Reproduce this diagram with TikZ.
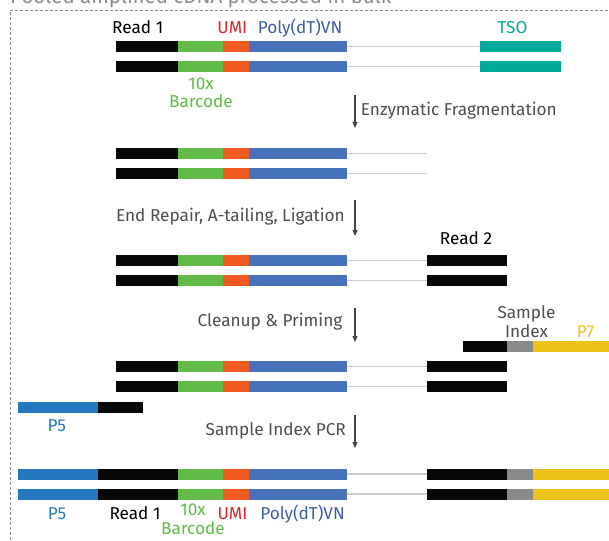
\documentclass[tikz,border=0pt]{standalone}
\usepackage{fontspec}
\setmainfont{Fira Sans}
\usepackage{tikz}
\usetikzlibrary{arrows.meta, positioning}
\usepackage{xcolor}

\definecolor{rdblack}{HTML}{080808}
\definecolor{bcgreen}{HTML}{62BB46}
\definecolor{umiorange}{HTML}{F15B22}
\definecolor{polyblue}{HTML}{4672BA}
\definecolor{tsoteal}{HTML}{00AA9B}
\definecolor{idxgray}{HTML}{8A8A8C}
\definecolor{pyellow}{HTML}{EDC21A}
\definecolor{pblue}{HTML}{2478BF}
\definecolor{linkgray}{HTML}{CDCDCD}
\definecolor{arrowgray}{HTML}{444444}
\definecolor{umired}{HTML}{DE2429}
\definecolor{polytext}{HTML}{3D5DA7}
\definecolor{steptext}{HTML}{4D4D4D}
\definecolor{framegray}{HTML}{8C8C8C}

\begin{document}
\begin{tikzpicture}[x=1pt, y=-1pt]

% Define block styles
\tikzstyle{bar} = [rectangle, inner sep=0pt, outer sep=0pt, minimum height=11pt, anchor=west]
\tikzstyle{readone} = [bar, fill=rdblack, minimum width=62.5pt]
\tikzstyle{barcode} = [bar, fill=bcgreen, minimum width=44.4pt]
\tikzstyle{umi} = [bar, fill=umiorange, minimum width=26.6pt]
\tikzstyle{polyt} = [bar, fill=polyblue, minimum width=97.4pt]
\tikzstyle{tso} = [bar, fill=tsoteal, minimum width=80.4pt]
\tikzstyle{readtwo} = [bar, fill=rdblack, minimum width=80pt]
\tikzstyle{index} = [bar, fill=idxgray, minimum width=26pt]
\tikzstyle{pseven} = [bar, fill=pyellow, minimum width=76pt]
\tikzstyle{pfive} = [bar, fill=pblue, minimum width=80pt]
\tikzstyle{link} = [draw=linkgray, line width=1.5pt]
\tikzstyle{arrow} = [draw=arrowgray, line width=1.1pt, -{Triangle[length=6pt, width=5pt]}]
\tikzstyle{tag} = [inner sep=0pt, anchor=base, align=center, font=\fontsize{17.2}{18.6}\selectfont]
\tikzstyle{stage} = [tag, text=steptext]

\path [use as bounding box, clip] (0,0) rectangle (609,540);

% Frame and cut title
\node (title) [tag, anchor=base west, text=framegray, font=\fontsize{20.5}{22}\selectfont] at (10,4) {Pooled amplified cDNA processed in bulk};
\draw [framegray, line width=0.9pt, dash pattern=on 3pt off 2pt] (10,545) -- (10,10) -- (615,10);

% Full length cDNA
\node (a1r) [readone] at (115.7,46.7) {}; \node (a1b) [barcode, right=0pt of a1r] {}; \node (a1u) [umi, right=0pt of a1b] {}; \node (a1p) [polyt, right=0pt of a1u] {};
\node (a2r) [readone] at (115.7,66.7) {}; \node (a2b) [barcode, right=0pt of a2r] {}; \node (a2u) [umi, right=0pt of a2b] {}; \node (a2p) [polyt, right=0pt of a2u] {};
\node (a1t) [tso] at (480.3,46.7) {};
\node (a2t) [tso] at (480.3,66.7) {};

% Fragmented
\node (b1r) [readone] at (115.7,153.5) {}; \node (b1b) [barcode, right=0pt of b1r] {}; \node (b1u) [umi, right=0pt of b1b] {}; \node (b1p) [polyt, right=0pt of b1u] {};
\node (b2r) [readone] at (115.7,173.5) {}; \node (b2b) [barcode, right=0pt of b2r] {}; \node (b2u) [umi, right=0pt of b2b] {}; \node (b2p) [polyt, right=0pt of b2u] {};
\coordinate (b1end) at (427,153.5);
\coordinate (b2end) at (427,173.5);

% Ligated
\node (c1r) [readone] at (115.7,260.5) {}; \node (c1b) [barcode, right=0pt of c1r] {}; \node (c1u) [umi, right=0pt of c1b] {}; \node (c1p) [polyt, right=0pt of c1u] {};
\node (c2r) [readone] at (115.7,280.5) {}; \node (c2b) [barcode, right=0pt of c2r] {}; \node (c2u) [umi, right=0pt of c2b] {}; \node (c2p) [polyt, right=0pt of c2u] {};
\node (c1x) [readtwo] at (427.3,260.5) {};
\node (c2x) [readtwo] at (427.3,280.5) {};

% Primed
\node (p7r) [readtwo, minimum width=44.6pt] at (462.7,346.7) {}; \node (p7i) [index, right=0pt of p7r] {}; \node (p7y) [pseven, right=0pt of p7i] {};
\node (d1r) [readone] at (115.7,366.7) {}; \node (d1b) [barcode, right=0pt of d1r] {}; \node (d1u) [umi, right=0pt of d1b] {}; \node (d1p) [polyt, right=0pt of d1u] {};
\node (d2r) [readone] at (115.7,386.7) {}; \node (d2b) [barcode, right=0pt of d2r] {}; \node (d2u) [umi, right=0pt of d2b] {}; \node (d2p) [polyt, right=0pt of d2u] {};
\node (d1x) [readtwo] at (427.3,366.7) {};
\node (d2x) [readtwo] at (427.3,386.7) {};
\node (p5b) [pfive] at (18.3,407) {}; \node (p5r) [readone, minimum width=44.4pt, right=0pt of p5b] {};

% Final library
\node (e1f) [pfive] at (18.3,474) {}; \node (e1r) [readone, minimum width=80pt, right=0pt of e1f] {}; \node (e1b) [barcode, right=0pt of e1r] {}; \node (e1u) [umi, right=0pt of e1b] {}; \node (e1p) [polyt, right=0pt of e1u] {};
\node (e2f) [pfive] at (18.3,494) {}; \node (e2r) [readone, minimum width=80pt, right=0pt of e2f] {}; \node (e2b) [barcode, right=0pt of e2r] {}; \node (e2u) [umi, right=0pt of e2b] {}; \node (e2p) [polyt, right=0pt of e2u] {};
\node (e1x) [readtwo] at (427.3,474) {}; \node (e1i) [index, right=0pt of e1x] {}; \node (e1y) [pseven, right=0pt of e1i] {};
\node (e2x) [readtwo] at (427.3,494) {}; \node (e2i) [index, right=0pt of e2x] {}; \node (e2y) [pseven, right=0pt of e2i] {};

% Links
\draw [link] (a1p.east) -- (a1t.west);
\draw [link] (a2p.east) -- (a2t.west);
\draw [link] (b1p.east) -- (b1end);
\draw [link] (b2p.east) -- (b2end);
\draw [link] (c1p.east) -- (c1x.west);
\draw [link] (c2p.east) -- (c2x.west);
\draw [link] (d1p.east) -- (d1x.west);
\draw [link] (d2p.east) -- (d2x.west);
\draw [link] (e1p.east) -- (e1x.west);
\draw [link] (e2p.east) -- (e2x.west);

% Labels
\node (readonea) [tag, text=black] at (137.7,33.3) {Read 1};
\node (umia) [tag, text=umired] at (232.3,33.3) {UMI};
\node (polya) [tag, text=polytext] at (300,33.3) {Poly(dT)VN};
\node (tsoa) [tag, text=tsoteal] at (512.5,33.3) {TSO};
\node (bca) [tag, anchor=north, text=bcgreen] at (201,77.3) {10x\\Barcode};
\node (readtwoc) [tag, text=black] at (466,244.3) {Read 2};
\node (idxd) [tag, anchor=north, text=steptext] at (526.5,305.5) {Sample\\Index};
\node (psevend) [tag, text=pyellow] at (585.5,337) {P7};
\node (pfived) [tag, text=pblue] at (56.7,431) {P5};
\node (pfivee) [tag, text=pblue] at (57,519.5) {P5};
\node (readonee) [tag, text=black] at (135,519.5) {Read 1};
\node (bce) [tag, anchor=north, text=bcgreen] at (193,503.6) {10x\\Barcode};
\node (umie) [tag, text=umired] at (232.5,519.5) {UMI};
\node (polye) [tag, text=polytext] at (302.5,519.5) {Poly(dT)VN};

% Steps
\coordinate (s1top) at (355,95);   \coordinate (s1tip) at (355,128);
\coordinate (s2top) at (355,200);  \coordinate (s2tip) at (355,236);
\coordinate (s3top) at (355,308);  \coordinate (s3tip) at (355,342);
\coordinate (s4top) at (355,415);  \coordinate (s4tip) at (355,448);
\draw [arrow] (s1top) -- (s1tip);
\draw [arrow] (s2top) -- (s2tip);
\draw [arrow] (s3top) -- (s3tip);
\draw [arrow] (s4top) -- (s4tip);
\node (enzyme) [stage, anchor=base west] at (360.7,116) {Enzymatic Fragmentation};
\node (repair) [stage, anchor=base east] at (345,221.7) {End Repair, A-tailing, Ligation};
\node (cleanup) [stage, anchor=base east] at (342.5,326) {Cleanup \& Priming};
\node (indexpcr) [stage, anchor=base east] at (346,435) {Sample Index PCR};

\end{tikzpicture}
\end{document}
